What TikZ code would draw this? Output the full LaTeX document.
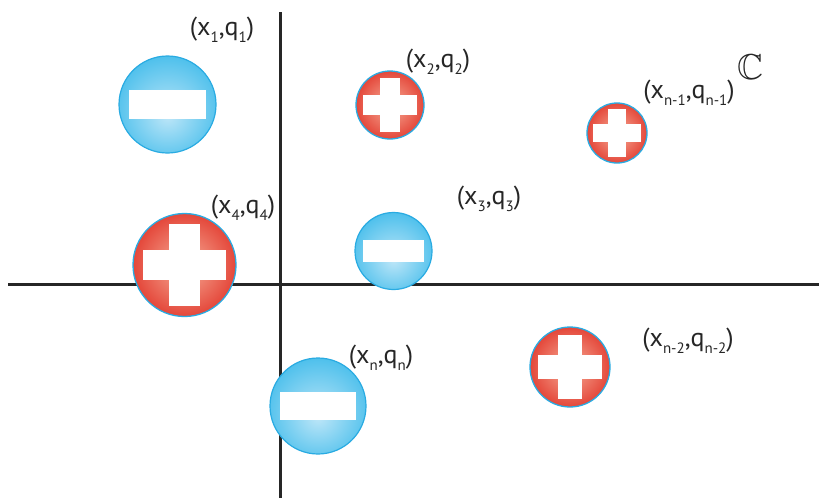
\documentclass[tikz,border=0pt]{standalone}
\usepackage{amssymb}
\usepackage{fontspec}
\setmainfont{PT Sans}
\definecolor{bluelight}{HTML}{BDE6F8}
\definecolor{bluemid}{HTML}{45BDEB}
\definecolor{blueedge}{HTML}{17A8E2}
\definecolor{rimblue}{HTML}{29ABE2}
\definecolor{redlight}{HTML}{F7B09A}
\definecolor{redmid}{HTML}{E4473A}
\definecolor{rededge}{HTML}{D6322A}
\pgfdeclareradialshading{blueball}{\pgfpoint{0bp}{-6bp}}{color(0bp)=(bluelight); color(30bp)=(bluemid); color(50bp)=(blueedge)}
\pgfdeclareradialshading{redball}{\pgfpoint{0bp}{0bp}}{color(0bp)=(redlight); color(25bp)=(redmid); color(50bp)=(rededge)}
\newcommand{\negcharge}[3]{% center x, y, radius
  \shade[shading=blueball] (#1,#2) circle[radius=#3];
  \draw[rimblue, line width=1.2pt] (#1,#2) circle[radius=#3];
  \fill[white] ($(#1,#2)+(-0.8*#3,-0.29*#3)$) rectangle ($(#1,#2)+(0.8*#3,0.29*#3)$);
}
\newcommand{\poscharge}[3]{%
  \shade[shading=redball] (#1,#2) circle[radius=#3];
  \draw[rimblue, line width=1.3pt] (#1,#2) circle[radius=#3];
  \fill[white] ($(#1,#2)+(-0.3*#3,-0.8*#3)$) rectangle ($(#1,#2)+(0.3*#3,0.8*#3)$);
  \fill[white] ($(#1,#2)+(-0.8*#3,-0.29*#3)$) rectangle ($(#1,#2)+(0.8*#3,0.29*#3)$);
}
\newcommand{\mysub}[1]{\raisebox{-0.55ex}{\fontsize{15}{15}\selectfont #1}}
\newcommand{\lab}[2]{(x\mysub{#1},q\mysub{#2})}
\usetikzlibrary{calc}
\begin{document}
\begin{tikzpicture}[x=1pt,y=-1pt,
  axis/.style={line width=3pt, color=black!85},
  lbl/.style={inner sep=0pt, font=\fontsize{26}{26}\selectfont, text=black!85}]
\useasboundingbox (0,0) rectangle (819,498);
\fill[white] (0,0) rectangle (819,498);
\draw[axis] (8,284) -- (819,284);
\draw[axis] (280,12) -- (280,498);
\negcharge{167.5}{104.5}{48.5}
\poscharge{390}{105}{34}
\poscharge{617}{133}{30}
\poscharge{184.5}{265}{51.5}
\negcharge{393.5}{251}{38.5}
\negcharge{318}{406}{48}
\poscharge{570}{367}{40}
\node[lbl] (l1) at (222,30) {\lab{1}{1}};
\node[lbl] (l2) at (438,62) {\lab{2}{2}};
\node[lbl] (ln1) at (689,93) {\lab{n-1}{n-1}};
\node[inner sep=0pt, font=\fontsize{36}{36}\selectfont, text=black!85] (C) at (750,67) {$\mathbb{C}$};
\node[lbl] (l4) at (243,208) {\lab{4}{4}};
\node[lbl] (l3) at (489,199) {\lab{3}{3}};
\node[lbl] (ln) at (381,358) {\lab{n}{n}};
\node[lbl] (ln2) at (688,341) {\lab{n-2}{n-2}};
\end{tikzpicture}
\end{document}
